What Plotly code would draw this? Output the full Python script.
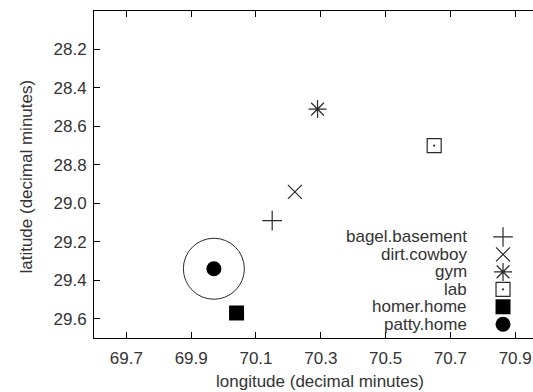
import plotly.graph_objects as go

# ---- data ----
categories = ["bagel.basement", "dirt.cowboy", "gym", "lab", "homer.home", "patty.home"]
longitude = [70.15, 70.22, 70.29, 70.65, 70.04, 69.97]
latitude = [29.09, 28.94, 28.51, 28.70, 29.57, 29.34]
x_ticks = [69.7, 69.9, 70.1, 70.3, 70.5, 70.7, 70.9]
x_tick_labels = ["69.7", "69.9", "70.1", "70.3", "70.5", "70.7", "70.9"]
y_ticks = [28.2, 28.4, 28.6, 28.8, 29.0, 29.2, 29.4, 29.6]
y_tick_labels = ["28.2", "28.4", "28.6", "28.8", "29.0", "29.2", "29.4", "29.6"]
highlight = "patty.home"

# ---- styles ----
symbols = ["cross-thin-open", "x-thin-open", "asterisk-open", "square-open-dot", "square", "circle"]
sizes = [14, 14, 15, 14, 15, 15]
INK = "#2a2a2a"
FONT = "Liberation Sans, Arial, Helvetica, sans-serif"
FS = 17

fig = go.Figure()

def marker_style(i):
    if symbols[i] in ("square", "circle"):
        return dict(symbol=symbols[i], size=sizes[i], color="black", line=dict(width=0))
    return dict(symbol=symbols[i], size=sizes[i], color=INK, line=dict(width=1.2, color=INK))

for i, name in enumerate(categories):
    fig.add_trace(go.Scatter(x=[longitude[i]], y=[latitude[i]], mode="markers", name=name,
                             marker=marker_style(i), showlegend=False, hoverinfo="name"))

# highlight ring around one location
hi = categories.index(highlight)
fig.add_trace(go.Scatter(x=[longitude[hi]], y=[latitude[hi]], mode="markers", showlegend=False,
                         marker=dict(symbol="circle-open", size=61, color=INK, line=dict(width=1, color=INK)),
                         hoverinfo="skip"))

# manual legend (text left, symbol right) on an overlay axis in plot-fraction units
leg_x_sym = 0.9317
leg_x_txt = 0.853
leg_y0 = 0.309
leg_dy = 0.0534
for i, name in enumerate(categories):
    yy = leg_y0 - i * leg_dy
    fig.add_trace(go.Scatter(x=[leg_x_sym], y=[yy], mode="markers", xaxis="x2", yaxis="y2",
                             marker=marker_style(i), showlegend=False, hoverinfo="skip"))
    fig.add_annotation(x=leg_x_txt, y=yy, xref="paper", yref="paper", text=name, showarrow=False,
                       xanchor="right", yanchor="middle", height=17, borderpad=0,
                       font=dict(family=FONT, size=FS, color="#333"))

# axis titles
fig.add_annotation(x=0.5137, y=-0.1344, xref="paper", yref="paper", text="longitude (decimal minutes)",
                   showarrow=False, xanchor="center", yanchor="middle",
                   font=dict(family=FONT, size=FS, color="#333"))
fig.add_annotation(x=-0.1547, y=0.494, xref="paper", yref="paper", text="latitude (decimal minutes)",
                   showarrow=False, xanchor="center", yanchor="middle", textangle=-90,
                   font=dict(family=FONT, size=FS, color="#333"))

fig.update_layout(
    width=533, height=392,
    margin=dict(l=93.5, r=0, t=11, b=53.5, autoexpand=False),
    paper_bgcolor="white", plot_bgcolor="white",
    font=dict(family=FONT, size=FS, color="#333"),
    xaxis=dict(range=[69.6, 70.955], tickvals=x_ticks, ticktext=x_tick_labels,
               ticks="inside", ticklen=6, tickcolor="black", showline=True, linecolor="black",
               linewidth=1, mirror="ticks", showgrid=False, zeroline=False, automargin=False,
               ticklabelstandoff=5),
    yaxis=dict(range=[29.7, 28.0], tickvals=y_ticks, ticktext=y_tick_labels,
               ticks="inside", ticklen=6, tickcolor="black", showline=True, linecolor="black",
               linewidth=1, mirror=False, showgrid=False, zeroline=False, ticklabelstandoff=3,
               automargin=False),
    xaxis2=dict(range=[0, 1], overlaying="x", anchor="y2", visible=False),
    yaxis2=dict(range=[0, 1], overlaying="y", anchor="x2", visible=False),
    showlegend=False,
)

fig.write_html("out.html", config={"displayModeBar": False},
               post_script="document.body.style.margin='0';document.body.style.overflow='hidden';")
